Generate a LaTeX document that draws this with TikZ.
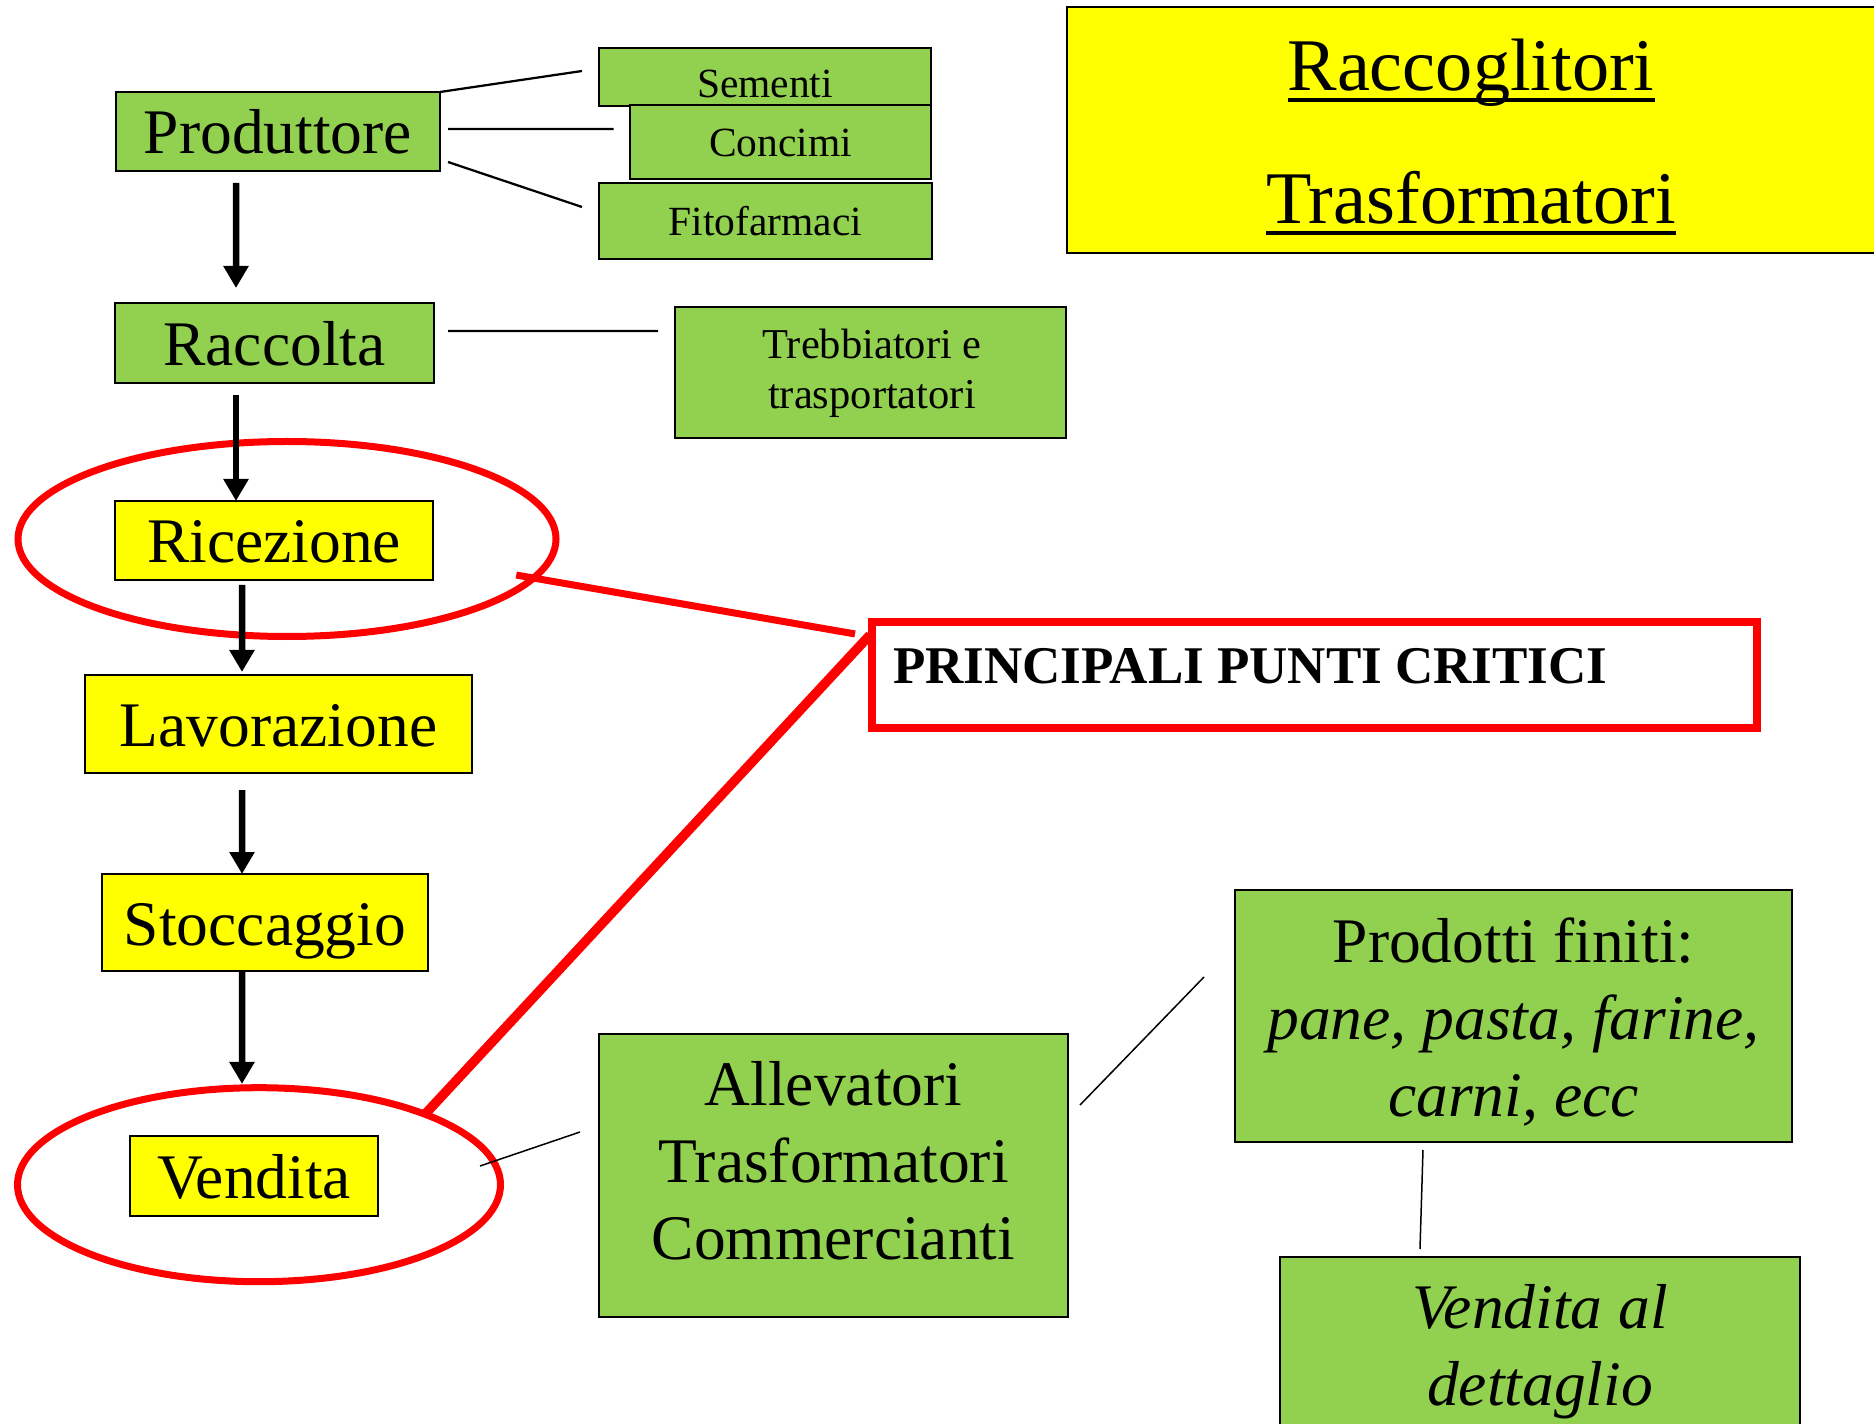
\documentclass[tikz,border=0pt]{standalone}
\usepackage{fontspec}
\setmainfont{Liberation Serif}
\usetikzlibrary{arrows.meta,shapes.geometric}
\definecolor{agrigreen}{RGB}{146,208,80}
\definecolor{agriyellow}{RGB}{255,255,0}
\definecolor{critred}{RGB}{255,0,0}
\newsavebox\ulbox
\newcommand{\ulword}[1]{\sbox\ulbox{#1}\rlap{\rule[-4.4pt]{\wd\ulbox}{1.4pt}}\usebox\ulbox}

\begin{document}
\begin{tikzpicture}[x=0.4pt,y=-0.4pt,
  stagebox/.style={draw=black,line width=0.9pt,inner sep=0pt,outer sep=0pt},
  gbox/.style={stagebox,fill=agrigreen},
  ybox/.style={stagebox,fill=agriyellow},
  bigtxt/.style={font=\fontsize{25.4}{30.8}\selectfont,text height=23.1pt,text depth=5.1pt},
  smalltxt/.style={font=\fontsize{16.6}{20}\selectfont,text height=15.1pt,text depth=3.3pt},
  blocktxt/.style={font=\fontsize{25.4}{30.8}\selectfont,align=center,anchor=north,inner sep=0pt},
  flow/.style={line width=2.6pt,-{Triangle[length=8.8pt,width=9.6pt]}},
  link/.style={line width=0.9pt},
  thinlink/.style={line width=0.6pt},
  crit/.style={ellipse,draw=critred,line width=2.8pt,inner sep=0pt,outer sep=0pt},
  critline/.style={draw=critred,line width=2.8pt}]
    \useasboundingbox (0,0) rectangle (1874,1424);
    \node[crit,minimum width=215.2pt,minimum height=78pt] (crit1) at (287,539) {};
    \node[crit,minimum width=193.2pt,minimum height=77.6pt] (crit2) at (259,1184.7) {};

    \node[gbox,bigtxt,minimum width=129.6pt,minimum height=31.6pt] (prod) at (278,131.5) {Produttore};
    \node[gbox,smalltxt,text height=20.1pt,minimum width=132.8pt,minimum height=23.2pt] (sem) at (765,77) {Sementi};
    \node[gbox,smalltxt,minimum width=120.4pt,minimum height=29.6pt] (conc) at (780.5,142) {Concimi};
    \node[gbox,smalltxt,minimum width=133.2pt,minimum height=30.4pt] (fito) at (765.5,221) {Fitofarmaci};
    \node[gbox,bigtxt,minimum width=127.6pt,minimum height=32pt] (racc) at (274.5,343) {Raccolta};
    \node[gbox,minimum width=156.4pt,minimum height=52.4pt] (treb) at (870.5,372.5) {};
    \node[blocktxt,font=\fontsize{17}{20}\selectfont] (treb-t) at (872,323) {\strut Trebbiatori e\\trasportatori};
    \node[ybox,minimum width=325.2pt,minimum height=98.4pt] (racco) at (1473.5,130) {};
    \node[blocktxt,font=\fontsize{29.7}{53.2}\selectfont] (racco-t) at (1471,-3) {\strut\ulword{Raccoglitori}\\\ulword{Trasformatori}};

    \node[ybox,bigtxt,minimum width=127.2pt,minimum height=31.6pt] (ric) at (274,540.5) {Ricezione};
    \node[ybox,bigtxt,minimum width=154.8pt,minimum height=39.2pt] (lav) at (278.5,724) {Lavorazione};
    \node[ybox,bigtxt,minimum width=130.4pt,minimum height=38.8pt] (sto) at (265,922.5) {Stoccaggio};
    \node[ybox,bigtxt,minimum width=99.2pt,minimum height=32pt] (vend) at (254,1176) {Vendita};

    \node[stagebox,draw=critred,line width=3.2pt,fill=white,minimum width=354pt,minimum height=42.2pt] (pp) at (1314.5,675.2) {};
    \node[anchor=base west,inner sep=0pt,font=\fontsize{21.2}{25}\selectfont\bfseries] (pp-t) at (892.5,684) {PRINCIPALI PUNTI CRITICI};

    \node[gbox,minimum width=187.6pt,minimum height=113.2pt] (alle) at (833.5,1175.5) {};
    \node[blocktxt] (alle-t) at (833.5,1051) {\strut Allevatori\\Trasformatori\\Commercianti};
    \node[gbox,minimum width=222.8pt,minimum height=100.8pt] (prodf) at (1513.5,1016) {};
    \node[blocktxt] (prodf-t) at (1513.5,908) {\strut Prodotti finiti:\\\itshape pane, pasta, farine,\\\itshape carni, ecc};
    \node[gbox,minimum width=208pt,minimum height=73.2pt] (vdett) at (1540,1348.5) {};
    \node[blocktxt,font=\fontsize{25.4}{30.8}\selectfont\itshape] (vdett-t) at (1540,1274) {\strut Vendita al\\dettaglio};

    \draw[link] (prod.north east) -- ([xshift=-6.8pt,yshift=2.4pt]sem.west);
    \draw[link] ([xshift=3.2pt,yshift=1pt]prod.east) -- ([xshift=-6.6pt,yshift=5.2pt]conc.west);
    \draw[link] ([xshift=3.2pt,yshift=3.6pt]prod.south east) -- ([xshift=-6.8pt,yshift=5.6pt]fito.west);
    \draw[link] ([xshift=5.6pt,yshift=4.8pt]racc.east) -- ([xshift=-6.8pt,yshift=16.6pt]treb.west);
    \draw[thinlink] ([xshift=40.8pt,yshift=4pt]vend.east) -- ([xshift=-7.6pt,yshift=17.4pt]alle.west);
    \draw[thinlink] ([xshift=4.8pt,yshift=-28.4pt]alle.north east) -- ([xshift=-12.4pt,yshift=15.6pt]prodf.west);
    \draw[thinlink] ([xshift=-36.2pt,yshift=-3.2pt]prodf.south) -- ([xshift=-48pt,yshift=3.2pt]vdett.north);

    \draw[critline,shorten <=-7pt] (crit1.-9) -- ([xshift=-6.8pt,yshift=-4.6pt]pp.north west);
    \draw[critline,line width=3.8pt] (crit2.23) -- ([xshift=-0.8pt,yshift=-5pt]pp.north west);

    \draw[flow,shorten <=4.8pt,shorten >=6pt] ([xshift=-16.8pt]prod.south) -- ([xshift=-15.4pt]racc.north);
    \draw[flow,shorten <=4.8pt] ([xshift=-15.4pt]racc.south) -- ([xshift=-15.2pt]ric.north);
    \draw[flow,shorten <=2pt,shorten >=1.2pt] ([xshift=-12.8pt]ric.south) -- ([xshift=-14.6pt]lav.north);
    \draw[flow,shorten <=6.8pt] ([xshift=-14.6pt]lav.south) -- ([xshift=-9.2pt]sto.north);
    \draw[flow,shorten >=1.5pt] ([xshift=-9.2pt]sto.south) -- ([xshift=-6.8pt]crit2.north);
\end{tikzpicture}
\end{document}
